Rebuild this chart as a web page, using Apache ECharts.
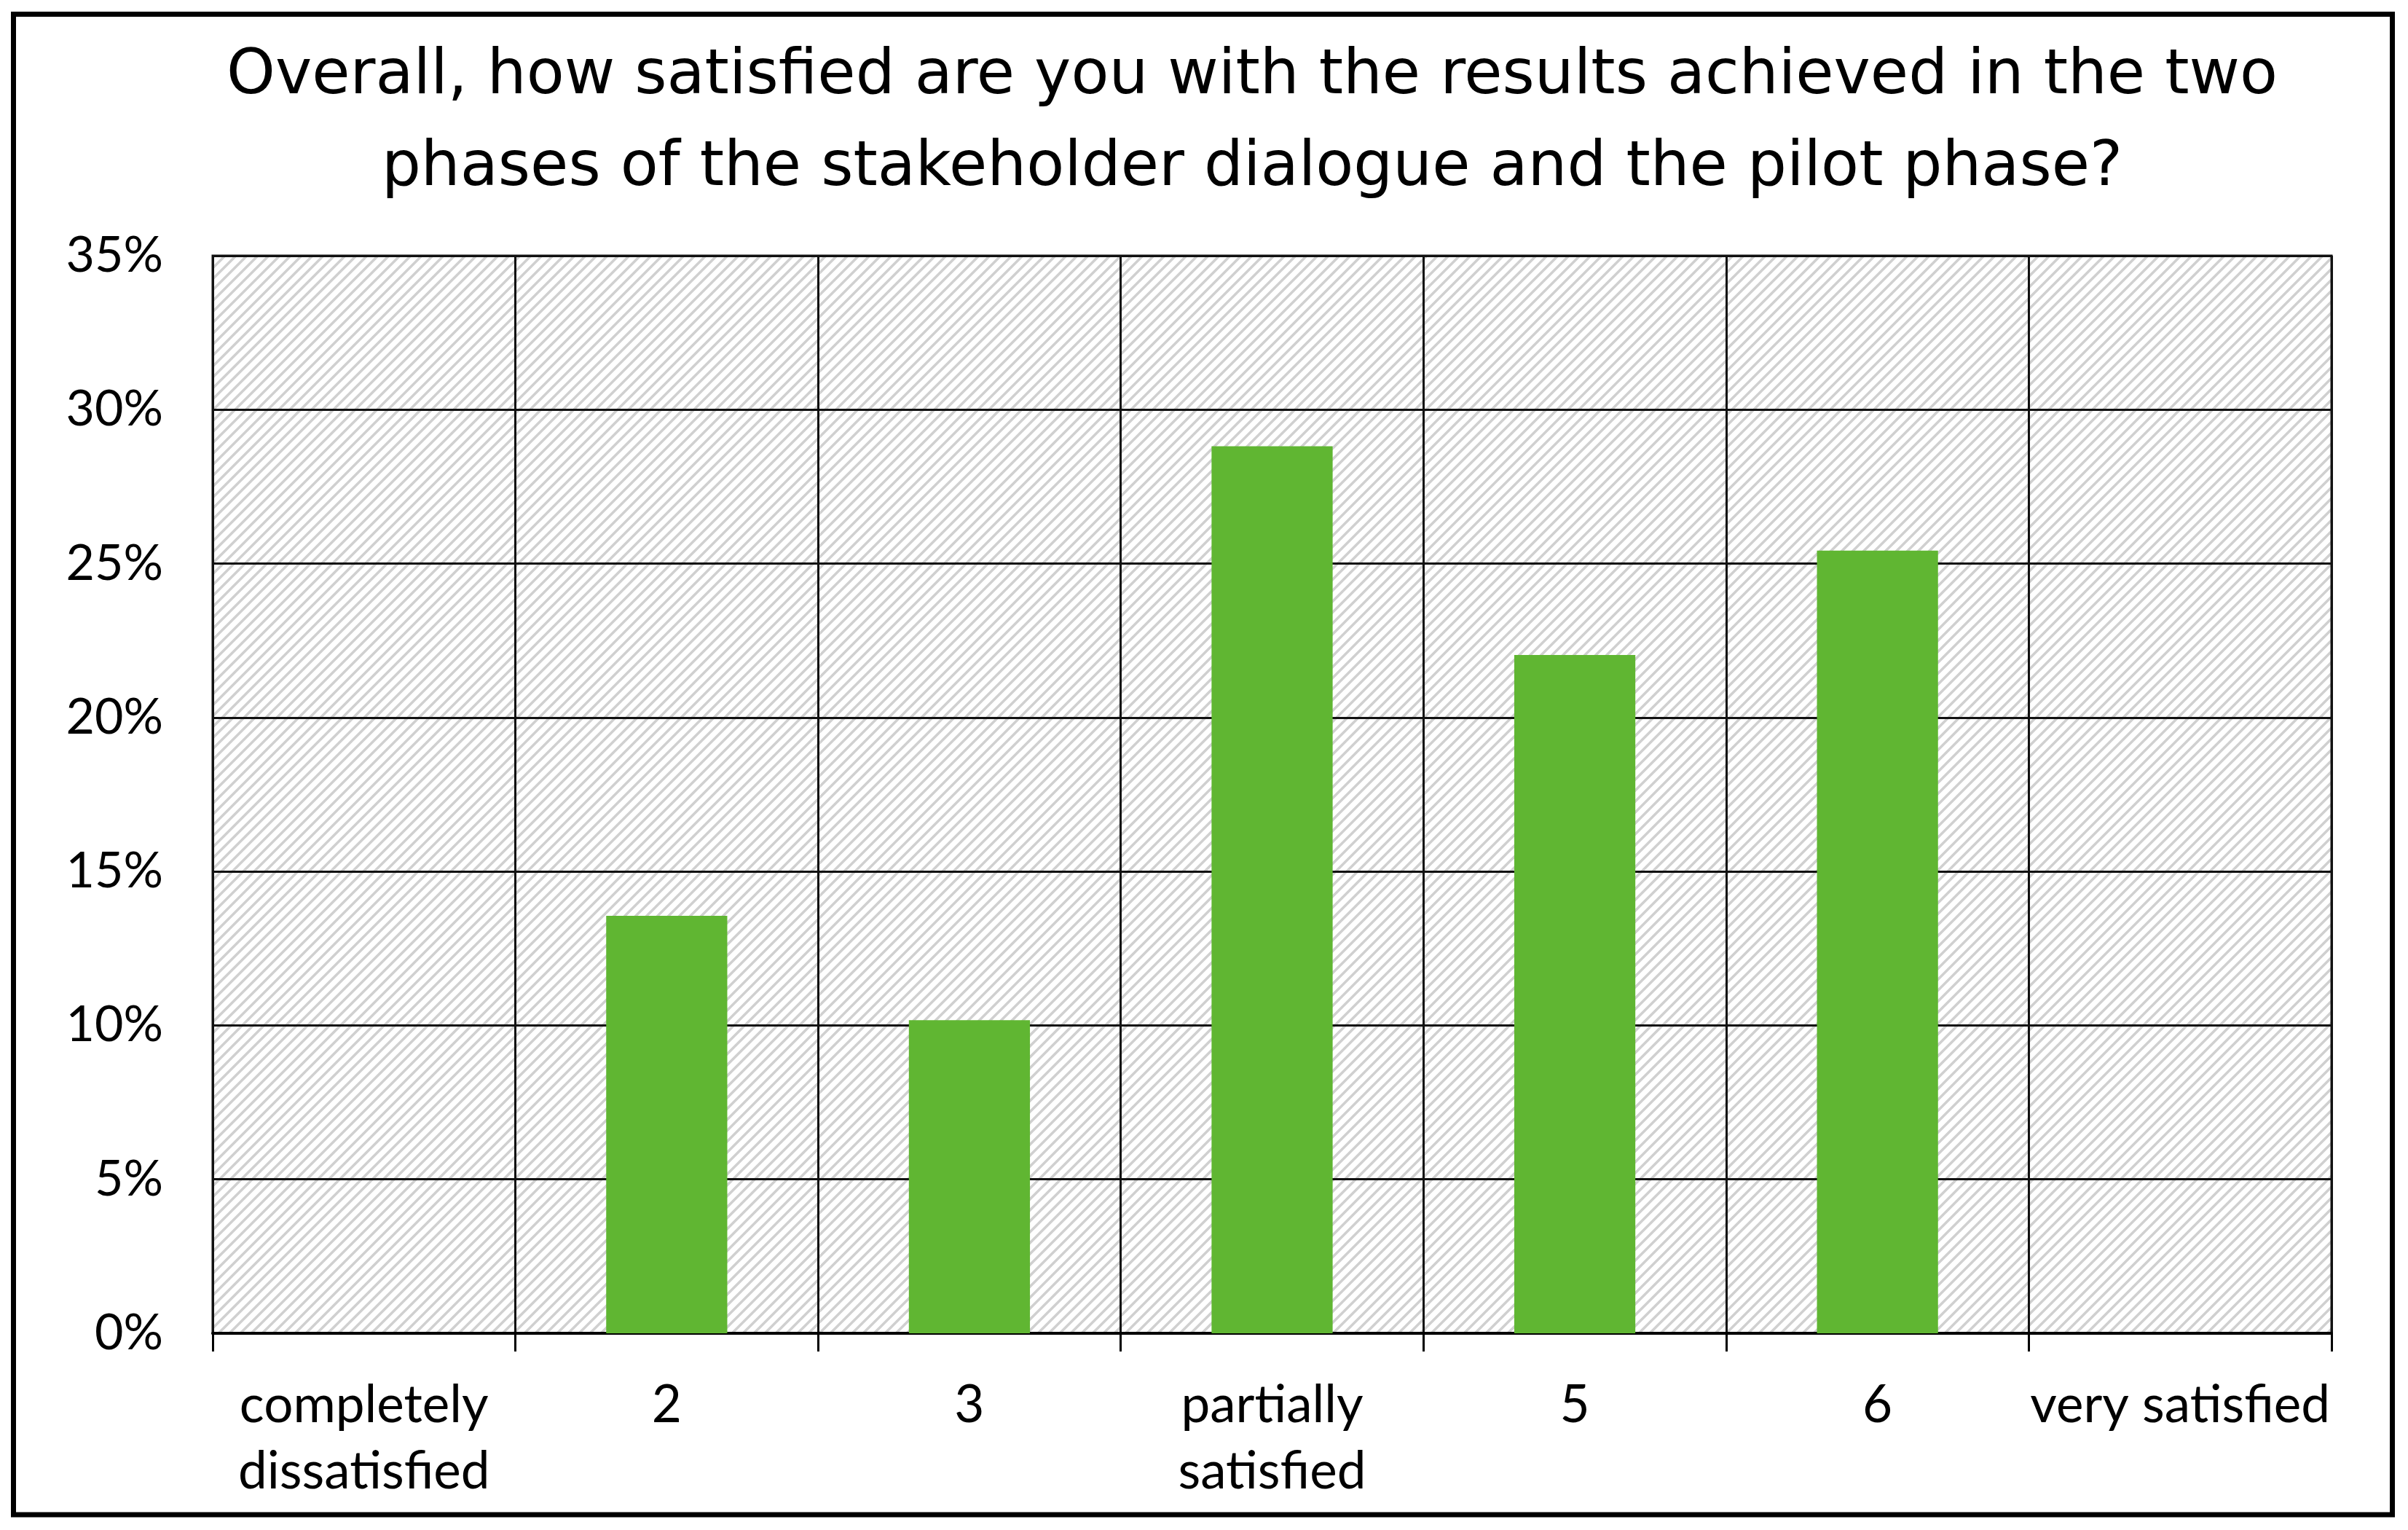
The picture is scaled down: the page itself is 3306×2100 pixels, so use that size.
<!DOCTYPE html>
<html><head><meta charset="utf-8">
<script src="https://cdn.jsdelivr.net/npm/echarts@6/dist/echarts.min.js"></script>
<style>html,body{margin:0;padding:0;background:#fff}#c{width:3306px;height:2100px}</style>
</head><body><div id="c"></div>
<script>
const titleText = 'Overall, how satisfied are you with the results achieved in the two\nphases of the stakeholder dialogue and the pilot phase?';
const categories = ['completely\ndissatisfied', '2', '3', 'partially\nsatisfied', '5', '6', 'very satisfied'];
const shares = [0, 13.56, 10.17, 28.81, 22.03, 25.42, 0];
const yMin = 0;
const yMax = 35;
const yStep = 5;

function hatch() {
  const p = 15;
  const c = document.createElement('canvas');
  c.width = p; c.height = p;
  const g = c.getContext('2d');
  g.fillStyle = '#ffffff';
  g.fillRect(0, 0, p, p);
  g.strokeStyle = '#d0d0d0';
  g.lineWidth = 3.5;
  g.beginPath();
  for (const k of [0, p, 2 * p]) {
    g.moveTo(-2, k + 2);
    g.lineTo(p + 2, k - p - 2);
  }
  g.stroke();
  return c;
}

const chart = echarts.init(document.getElementById('c'), null, {renderer: 'canvas'});
chart.setOption({
  animation: false,
  backgroundColor: '#ffffff',
  title: {
    text: titleText,
    left: 1714,
    top: 38,
    textAlign: 'center',
    textStyle: {
      fontFamily: 'DejaVu Sans',
      fontWeight: 'normal',
      fontSize: 85,
      lineHeight: 126,
      color: '#000'
    }
  },
  graphic: [{
    type: 'rect',
    silent: true,
    shape: {x: 18.5, y: 19.5, width: 3266, height: 2059.5},
    style: {fill: 'none', stroke: '#000', lineWidth: 7}
  }],
  grid: {
    left: 292, right: 105, top: 351, bottom: 270,
    show: true,
    backgroundColor: {image: hatch(), repeat: 'repeat'},
    borderColor: '#111',
    borderWidth: 3
  },
  xAxis: {
    type: 'category',
    data: categories,
    boundaryGap: true,
    axisLine: {show: true, lineStyle: {color: '#000', width: 4}},
    axisTick: {show: true, length: 25, lineStyle: {color: '#000', width: 3}},
    splitLine: {show: true, lineStyle: {color: '#111', width: 3}},
    axisLabel: {
      margin: 54,
      fontFamily: 'Lato',
      fontSize: 71,
      lineHeight: 91,
      color: '#000',
      interval: 0
    }
  },
  yAxis: {
    type: 'value',
    min: yMin, max: yMax, interval: yStep,
    axisLine: {show: false},
    axisTick: {show: false},
    splitLine: {show: true, lineStyle: {color: '#111', width: 3}},
    axisLabel: {
      margin: 68,
      formatter: '{value}%',
      fontFamily: 'Lato',
      fontSize: 68,
      color: '#000'
    }
  },
  series: [{
    type: 'bar',
    data: shares,
    barWidth: '40%',
    itemStyle: {color: '#60b632'}
  }]
});
</script>
</body></html>
